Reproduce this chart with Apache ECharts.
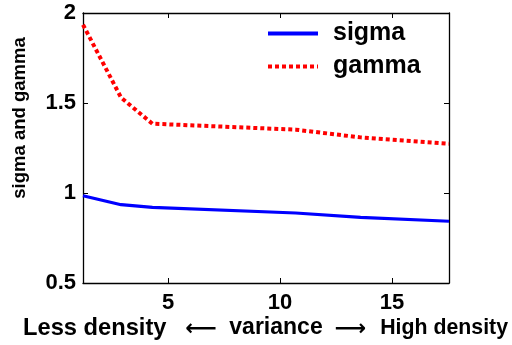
<!DOCTYPE html>
<html>
<head>
<meta charset="utf-8">
<script src="https://cdn.jsdelivr.net/npm/echarts@6/dist/echarts.min.js"></script>
<style>html,body{margin:0;padding:0;background:#fff}#c{width:512px;height:345px}</style>
</head>
<body>
<div id="c"></div>
<script>
var xValues = [1.2, 2.9, 4.3, 10.7, 13.6, 17.55];
var sigma = [0.985, 0.935, 0.92, 0.889, 0.865, 0.843];
var gamma = [1.935, 1.53, 1.385, 1.352, 1.309, 1.274];
var xTicks = [5, 10, 15];

function pairs(ys) { return xValues.map(function (x, i) { return [x, ys[i]]; }); }

var FONT = '"Liberation Sans", Arial, sans-serif';
var chart = echarts.init(document.getElementById('c'), null, { renderer: 'canvas' });
var axisLineStyle = { color: '#000', width: 1.3 };
chart.setOption({
  animation: false,
  grid: { left: 83, right: 63, top: 13, bottom: 62 },
  xAxis: [{
    type: 'value', min: 1.2, max: 17.55, position: 'bottom',
    axisLine: { show: true, onZero: false, lineStyle: axisLineStyle },
    axisTick: { show: true, inside: true, length: 5, customValues: xTicks, lineStyle: { color: '#000' } },
    axisLabel: { customValues: xTicks, color: '#000', fontFamily: FONT, fontWeight: 'bold', fontSize: 22, margin: 9 },
    splitLine: { show: false }
  }, {
    type: 'value', min: 1.2, max: 17.55, position: 'top',
    axisLine: { show: true, onZero: false, lineStyle: axisLineStyle },
    axisTick: { show: true, inside: true, length: 5, customValues: xTicks, lineStyle: { color: '#000' } },
    axisLabel: { show: false },
    splitLine: { show: false }
  }],
  yAxis: [{
    type: 'value', min: 0.5, max: 2, interval: 0.5, position: 'left',
    axisLine: { show: true, onZero: false, lineStyle: axisLineStyle },
    axisTick: { show: true, inside: true, length: 5, lineStyle: { color: '#000' } },
    axisLabel: { color: '#000', fontFamily: FONT, fontWeight: 'bold', fontSize: 22, margin: 7 },
    splitLine: { show: false }
  }, {
    type: 'value', min: 0.5, max: 2, interval: 0.5, position: 'right',
    axisLine: { show: true, onZero: false, lineStyle: axisLineStyle },
    axisTick: { show: true, inside: true, length: 5, lineStyle: { color: '#000' } },
    axisLabel: { show: false },
    splitLine: { show: false }
  }],
  legend: {
    orient: 'vertical', left: 261, top: 16, itemWidth: 50, itemHeight: 10, itemGap: 8,
    itemStyle: { opacity: 0 },
    lineStyle: { width: 4 },
    textStyle: { color: '#000', fontFamily: FONT, fontWeight: 'bold', fontSize: 25, padding: [0, 0, 0, 10] },
    data: ['sigma', 'gamma']
  },
  series: [{
    name: 'sigma', type: 'line', data: pairs(sigma), showSymbol: false, symbol: 'none',
    lineStyle: { color: '#0000ff', width: 3.2 }, itemStyle: { color: '#0000ff' }
  }, {
    name: 'gamma', type: 'line', data: pairs(gamma), showSymbol: false, symbol: 'none',
    lineStyle: { color: '#ff0000', width: 4, type: [4, 3], cap: 'butt' }, itemStyle: { color: '#ff0000' }
  }],
  graphic: [
    { type: 'text', x: 20, y: 118, rotation: Math.PI / 2,
      style: { text: 'sigma and gamma', fill: '#000', font: 'bold 18.5px ' + FONT, align: 'center', verticalAlign: 'middle' } },
    { type: 'text', x: 23, y: 328,
      style: { text: 'Less density', fill: '#000', font: 'bold 23.7px ' + FONT, align: 'left', verticalAlign: 'middle' } },
    { type: 'text', x: 201, y: 329,
      style: { text: '\u27F5', fill: '#000', font: 'bold 22px "DejaVu Sans"', align: 'center', verticalAlign: 'middle' } },
    { type: 'text', x: 276, y: 328,
      style: { text: 'variance', fill: '#000', font: 'bold 23px ' + FONT, align: 'center', verticalAlign: 'middle' } },
    { type: 'text', x: 350.5, y: 329,
      style: { text: '\u27F6', fill: '#000', font: 'bold 22px "DejaVu Sans"', align: 'center', verticalAlign: 'middle' } },
    { type: 'text', x: 508, y: 328,
      style: { text: 'High density', fill: '#000', font: 'bold 21.3px ' + FONT, align: 'right', verticalAlign: 'middle' } }
  ]
});
</script>
</body>
</html>
